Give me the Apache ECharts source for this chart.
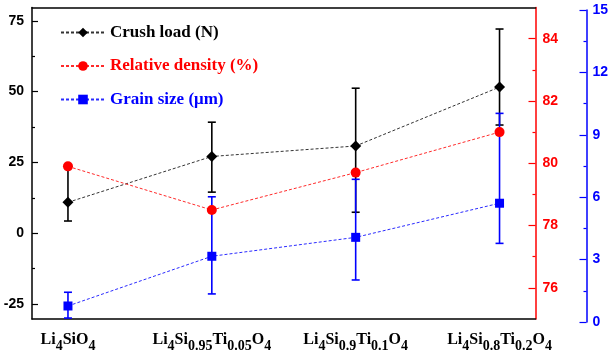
<!DOCTYPE html>
<html><head><meta charset="utf-8">
<script src="https://cdn.jsdelivr.net/npm/echarts@6/dist/echarts.min.js"></script>
<style>html,body{margin:0;padding:0;background:#fff}#c{width:615px;height:353px}</style>
</head><body><div id="c"></div>
<script>
var categories = ['Li4SiO4', 'Li4Si0.95Ti0.05O4', 'Li4Si0.9Ti0.1O4', 'Li4Si0.8Ti0.2O4'];
var crushLoad = [10.9, 27.1, 30.8, 51.6];
var crushLow = [4.3, 14.5, 7.4, 38.2];
var crushHigh = [23.5, 39.2, 51.2, 72.1];
var density = [79.9, 78.5, 79.7, 81.0];
var grain = [0.77, 3.16, 4.07, 5.71];
var grainLow = [0.19, 1.35, 2.02, 3.78];
var grainHigh = [1.43, 6.02, 6.86, 10.03];
var leftTicks = [-25, 0, 25, 50, 75];
var leftMinor = [-12.5, 12.5, 37.5, 62.5];
var redTicks = [76, 78, 80, 82, 84];
var redMinor = [77, 79, 81, 83];
var names = ['Crush load (N)', 'Relative density (%)', 'Grain size (\u03bcm)'];

function richLabel(s) {
  var parts = s.match(/[A-Za-z]+|[0-9.]+/g);
  return parts.map(function (p) { return /[0-9]/.test(p) ? '{s|' + p + '}' : '{n|' + p + '}'; }).join('');
}
var idx = categories.map(function (c, i) { return i; });
var serif = 'Liberation Serif, Times New Roman, serif';
var sans = 'Liberation Sans, Arial, sans-serif';

function errBar(color) {
  return function (params, api) {
    var x = api.value(0);
    var lo = api.coord([x, api.value(1)]);
    var hi = api.coord([x, api.value(2)]);
    var w = 4;
    var st = { stroke: color, lineWidth: 1.6 };
    return { type: 'group', children: [
      { type: 'line', shape: { x1: lo[0], y1: lo[1], x2: hi[0], y2: hi[1] }, style: st },
      { type: 'line', shape: { x1: lo[0] - w, y1: lo[1], x2: lo[0] + w, y2: lo[1] }, style: st },
      { type: 'line', shape: { x1: hi[0] - w, y1: hi[1], x2: hi[0] + w, y2: hi[1] }, style: st }
    ] };
  };
}

var chart = echarts.init(document.getElementById('c'));
var xBase = { type: 'value', min: -0.25, max: 3.25, splitLine: { show: false } };
chart.setOption({
  animation: false,
  grid: [
    { left: 32, right: 79.5, top: 7.5, bottom: 32 },
    { left: 32, right: 79.5, top: 10, bottom: 31 }
  ],
  legend: {
    orient: 'vertical', left: 60, top: 24, padding: 0, itemGap: 16.5, itemWidth: 44, itemHeight: 12,
    textStyle: { fontFamily: serif, fontWeight: 'bold', fontSize: 17 },
    data: [
      { name: names[0], textStyle: { color: '#000' } },
      { name: names[1], textStyle: { color: '#ff0000' } },
      { name: names[2], textStyle: { color: '#0000ff' } }
    ]
  },
  xAxis: [
    Object.assign({}, xBase, { gridIndex: 0, position: 'bottom',
      axisLine: { onZero: false, lineStyle: { color: '#000', width: 1.5 } }, axisTick: { show: false },
      axisLabel: { customValues: idx, margin: 9, color: '#000',
        formatter: function (v) { return richLabel(categories[Math.round(v)]); },
        rich: {
          n: { fontFamily: serif, fontWeight: 'bold', fontSize: 16, color: '#000', lineHeight: 20, verticalAlign: 'bottom' },
          s: { fontFamily: serif, fontWeight: 'bold', fontSize: 14, color: '#000', lineHeight: 20, verticalAlign: 'bottom', padding: [0, 0, -5, 0] }
        } } }),
    Object.assign({}, xBase, { gridIndex: 0, position: 'top',
      axisLine: { onZero: false, lineStyle: { color: '#000', width: 1.5 } }, axisTick: { show: false }, axisLabel: { show: false } }),
    Object.assign({}, xBase, { gridIndex: 1, show: false, axisLine: { onZero: false } })
  ],
  yAxis: [
    { type: 'value', gridIndex: 0, position: 'left', min: -30.3, max: 79.7, splitLine: { show: false },
      axisLine: { show: true, onZero: false, lineStyle: { color: '#000', width: 1.5 } },
      axisTick: { inside: true, length: 6, customValues: leftTicks, lineStyle: { color: '#000', width: 1.2 } },
      axisLabel: { customValues: leftTicks, color: '#000', fontFamily: sans, fontWeight: 'bold', fontSize: 14, margin: 8 } },
    { type: 'value', gridIndex: 0, position: 'left', min: -30.3, max: 79.7, splitLine: { show: false },
      axisLine: { show: false, onZero: false }, axisLabel: { show: false },
      axisTick: { inside: true, length: 3, customValues: leftMinor, lineStyle: { color: '#000', width: 1.2 } } },
    { type: 'value', gridIndex: 0, position: 'right', min: 75, max: 85, splitLine: { show: false },
      axisLine: { show: true, onZero: false, lineStyle: { color: '#ff0000', width: 1.5 } },
      axisTick: { inside: true, length: 7, customValues: redTicks, lineStyle: { color: '#ff0000', width: 1.2 } },
      axisLabel: { customValues: redTicks, color: '#ff0000', fontFamily: sans, fontWeight: 'bold', fontSize: 14, margin: 7 } },
    { type: 'value', gridIndex: 0, position: 'right', min: 75, max: 85, splitLine: { show: false },
      axisLine: { show: false, onZero: false }, axisLabel: { show: false },
      axisTick: { inside: true, length: 3, customValues: redMinor, lineStyle: { color: '#ff0000', width: 1.2 } } },
    { type: 'value', gridIndex: 1, position: 'right', offset: 51, min: 0, max: 15, interval: 3, splitLine: { show: false },
      axisLine: { show: true, onZero: false, lineStyle: { color: '#0000ff', width: 1.5 } },
      axisTick: { inside: true, length: 7, lineStyle: { color: '#0000ff', width: 1.2 } },
      minorTick: { show: true, splitNumber: 2, length: 3, lineStyle: { color: '#0000ff', width: 1.2 } },
      axisLabel: { color: '#0000ff', fontFamily: sans, fontWeight: 'bold', fontSize: 14, margin: 6 } }
  ],
  series: [
    { type: 'custom', xAxisIndex: 0, yAxisIndex: 0, z: 1, silent: true,
      renderItem: errBar('#000'), data: idx.map(function (i) { return [i, crushLow[i], crushHigh[i]]; }) },
    { type: 'custom', xAxisIndex: 2, yAxisIndex: 4, z: 2, silent: true,
      renderItem: errBar('#0000ff'), data: idx.map(function (i) { return [i, grainLow[i], grainHigh[i]]; }) },
    { name: names[0], type: 'line', xAxisIndex: 0, yAxisIndex: 0, z: 5,
      data: idx.map(function (i) { return [i, crushLoad[i]]; }),
      symbol: 'diamond', symbolSize: 11, itemStyle: { color: '#000' },
      lineStyle: { color: '#333', width: 1, type: [3, 2] } },
    { name: names[2], type: 'line', xAxisIndex: 2, yAxisIndex: 4, z: 5,
      data: idx.map(function (i) { return [i, grain[i]]; }),
      symbol: 'rect', symbolSize: 9, itemStyle: { color: '#0000ff' },
      lineStyle: { color: '#2a2aff', width: 1, type: [3, 2] } },
    { name: names[1], type: 'line', xAxisIndex: 0, yAxisIndex: 2, z: 6,
      data: idx.map(function (i) { return [i, density[i]]; }),
      symbol: 'circle', symbolSize: 10, itemStyle: { color: '#ff0000' },
      lineStyle: { color: '#ff2a2a', width: 1, type: [3, 2] } }
  ]
});
</script></body></html>
